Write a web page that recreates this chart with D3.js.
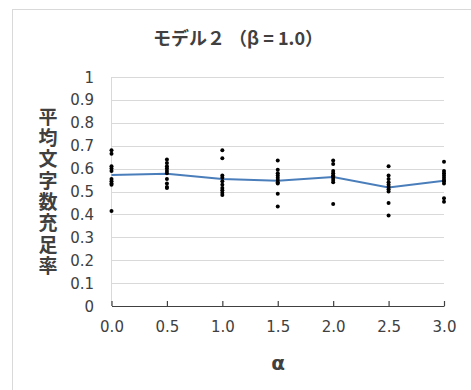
<!DOCTYPE html>
<html>
<head>
<meta charset="utf-8">
<script src="https://cdn.jsdelivr.net/npm/d3@7"></script>
<style>
  body { margin: 0; background: #fff; }
  text { font-family: "DejaVu Sans", sans-serif; fill: #404040; }
</style>
</head>
<body>
<div id="chart"></div>
<script>
// alpha values along the x axis
var alphas = [0.0, 0.5, 1.0, 1.5, 2.0, 2.5, 3.0];

// mean rate per alpha (the blue line)
var means = [0.572, 0.578, 0.555, 0.547, 0.563, 0.518, 0.547];

// individual runs per alpha (the black dots)
var runs = [
  [0.68, 0.665, 0.61, 0.60, 0.59, 0.555, 0.545, 0.535, 0.53, 0.415],
  [0.64, 0.625, 0.61, 0.60, 0.59, 0.58, 0.555, 0.535, 0.52, 0.515],
  [0.68, 0.645, 0.57, 0.56, 0.545, 0.53, 0.515, 0.505, 0.495, 0.485],
  [0.635, 0.595, 0.58, 0.57, 0.56, 0.55, 0.54, 0.535, 0.49, 0.435],
  [0.635, 0.62, 0.59, 0.58, 0.57, 0.565, 0.56, 0.55, 0.54, 0.445],
  [0.61, 0.57, 0.555, 0.54, 0.53, 0.52, 0.51, 0.50, 0.45, 0.395],
  [0.63, 0.59, 0.58, 0.57, 0.56, 0.55, 0.545, 0.535, 0.47, 0.455]
];

var yTicks = [0, 0.1, 0.2, 0.3, 0.4, 0.5, 0.6, 0.7, 0.8, 0.9, 1];

var title = "モデル２ （β = 1.0）";
var yTitle = "平均文字数充足率";
var xTitle = "α";

var width = 471,
    height = 390;

var svg = d3.select("#chart")
            .append("svg")
            .attr("width", width)
            .attr("height", height);

// chart border (cut by the window on the right and bottom)
svg.append("rect")
   .attr("x", 12.5).attr("y", 9.5)
   .attr("width", 480).attr("height", 400)
   .attr("fill", "none")
   .attr("stroke", "#d9d9d9");

var x = d3.scaleLinear().domain([0, 3]).range([111.5, 444]);
var y = d3.scaleLinear().domain([0, 1]).range([306, 77]);

// gridlines
svg.append("g")
   .selectAll("line")
   .data(yTicks.slice(1))
   .enter().append("line")
   .attr("x1", x(0)).attr("x2", x(3))
   .attr("y1", function(d) { return Math.round(y(d)) + 0.5; })
   .attr("y2", function(d) { return Math.round(y(d)) + 0.5; })
   .attr("stroke", "#d9d9d9");

// y axis line, light like the grid
svg.append("line")
   .attr("x1", x(0)).attr("x2", x(0))
   .attr("y1", y(0)).attr("y2", y(1))
   .attr("stroke", "#d9d9d9");

// y tick labels
svg.append("g")
   .selectAll("text")
   .data(yTicks)
   .enter().append("text")
   .attr("x", 94)
   .attr("y", function(d) { return y(d) + 5.5; })
   .attr("text-anchor", "end")
   .style("font-size", "15px")
   .text(function(d) { return d3.format("")(d); });

// x axis with ticks pointing up
var xAxis = d3.axisBottom(x)
              .tickValues(alphas)
              .tickSizeInner(-5)
              .tickSizeOuter(0)
              .tickPadding(15)
              .tickFormat(d3.format(".1f"));

var gx = svg.append("g")
            .attr("transform", "translate(0," + 306 + ")")
            .call(xAxis);
gx.select(".domain").attr("stroke", "#404040").attr("stroke-width", 1.2);
gx.selectAll(".tick line").attr("stroke", "#404040").attr("stroke-width", 1.2);
gx.selectAll(".tick text")
  .style("font-size", "15px")
  .style("font-family", "DejaVu Sans, sans-serif")
  .attr("fill", "#404040");

// mean line
var line = d3.line()
             .x(function(d, i) { return x(alphas[i]); })
             .y(function(d) { return y(d); });

svg.append("path")
   .datum(means)
   .attr("d", line)
   .attr("fill", "none")
   .attr("stroke", "#4a7ebb")
   .attr("stroke-width", 2);

// dots
var dots = [];
runs.forEach(function(r, i) {
  r.forEach(function(v) { dots.push({a: alphas[i], v: v}); });
});

svg.append("g")
   .selectAll("circle")
   .data(dots)
   .enter().append("circle")
   .attr("cx", function(d) { return x(d.a); })
   .attr("cy", function(d) { return y(d.v); })
   .attr("r", 2)
   .attr("fill", "#000");

// title
svg.append("text")
   .attr("x", 238)
   .attr("y", 45)
   .attr("text-anchor", "middle")
   .style("font-family", "'Noto Sans CJK JP', sans-serif")
   .style("font-size", "18px")
   .style("font-weight", "bold")
   .attr("fill", "#000")
   .text(title);

// vertical y title as one text run
svg.append("text")
   .attr("x", 48)
   .attr("y", 107)
   .style("writing-mode", "vertical-rl")
   .style("text-orientation", "upright")
   .style("letter-spacing", "2.3px")
   .style("font-family", "'Noto Sans CJK JP', sans-serif")
   .style("font-size", "19px")
   .style("font-weight", "bold")
   .attr("fill", "#000")
   .text(yTitle);

// x title
svg.append("text")
   .attr("x", 278)
   .attr("y", 370)
   .attr("text-anchor", "middle")
   .style("font-family", "'DejaVu Sans', sans-serif")
   .style("font-size", "20px")
   .style("font-weight", "bold")
   .attr("fill", "#000")
   .text(xTitle);
</script>
</body>
</html>
